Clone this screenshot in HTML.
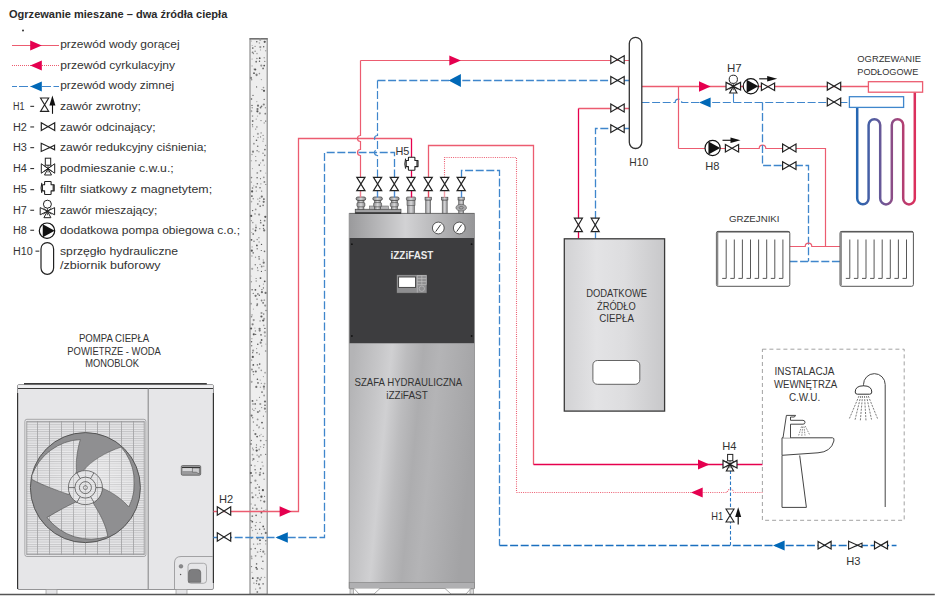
<!DOCTYPE html>
<html><head><meta charset="utf-8"><style>
html,body{margin:0;padding:0;background:#fff;width:946px;height:605px;overflow:hidden}
svg{display:block}
text{font-family:"Liberation Sans", sans-serif}
</style></head><body>
<svg width="946" height="605" viewBox="0 0 946 605">
<text x="9.0" y="17.8" font-size="10.8" text-anchor="start" font-weight="bold" fill="#2b2b2b" textLength="218.3" lengthAdjust="spacingAndGlyphs" >Ogrzewanie mieszane – dwa źródła ciepła</text>
<circle cx="23" cy="30.5" r="1.0" fill="#333"/>
<line x1="12" y1="45.5" x2="59" y2="45.5" stroke="#ec5c70" stroke-width="1.2"/>
<polygon points="30.2,40.4 41.8,45.5 30.2,50.6" fill="#e5004f"/>
<text x="60.2" y="48.1" font-size="11.7" text-anchor="start" font-weight="normal" fill="#333333" textLength="119.5" lengthAdjust="spacingAndGlyphs" >przewód wody gorącej</text>
<line x1="12" y1="65.5" x2="59" y2="65.5" stroke="#ec5c70" stroke-width="1.2" stroke-dasharray="1,1"/>
<polygon points="41.8,60.4 30.2,65.5 41.8,70.6" fill="#e5004f"/>
<text x="60.2" y="68.7" font-size="11.7" text-anchor="start" font-weight="normal" fill="#333333" textLength="114.9" lengthAdjust="spacingAndGlyphs" >przewód cyrkulacyjny</text>
<line x1="12" y1="86.5" x2="59" y2="86.5" stroke="#3f86cc" stroke-width="1.2" stroke-dasharray="5,2,9,2.5,9,2.5,9,2.5,9,2.5"/>
<polygon points="41.8,81.4 30.2,86.5 41.8,91.6" fill="#0068b7"/>
<text x="60.2" y="88.6" font-size="11.7" text-anchor="start" font-weight="normal" fill="#333333" textLength="114.0" lengthAdjust="spacingAndGlyphs" >przewód wody zimnej</text>
<text x="13.0" y="110.1" font-size="11.7" text-anchor="start" font-weight="normal" fill="#333333" textLength="11.5" lengthAdjust="spacingAndGlyphs" >H1</text>
<rect x="30.3" y="105.8" width="3.8" height="1.1" fill="#333333"/>
<text x="60.0" y="110.1" font-size="11.7" text-anchor="start" font-weight="normal" fill="#333333" textLength="80.9" lengthAdjust="spacingAndGlyphs" >zawór zwrotny;</text>
<text x="13.0" y="130.7" font-size="11.7" text-anchor="start" font-weight="normal" fill="#333333" textLength="13.9" lengthAdjust="spacingAndGlyphs" >H2</text>
<rect x="30.3" y="126.4" width="3.8" height="1.1" fill="#333333"/>
<text x="60.0" y="130.7" font-size="11.7" text-anchor="start" font-weight="normal" fill="#333333" textLength="95.7" lengthAdjust="spacingAndGlyphs" >zawór odcinający;</text>
<text x="13.0" y="151.4" font-size="11.7" text-anchor="start" font-weight="normal" fill="#333333" textLength="13.9" lengthAdjust="spacingAndGlyphs" >H3</text>
<rect x="30.3" y="147.1" width="3.8" height="1.1" fill="#333333"/>
<text x="60.0" y="151.4" font-size="11.7" text-anchor="start" font-weight="normal" fill="#333333" textLength="146.7" lengthAdjust="spacingAndGlyphs" >zawór redukcyjny ciśnienia;</text>
<text x="13.0" y="172.3" font-size="11.7" text-anchor="start" font-weight="normal" fill="#333333" textLength="13.9" lengthAdjust="spacingAndGlyphs" >H4</text>
<rect x="30.3" y="168.0" width="3.8" height="1.1" fill="#333333"/>
<text x="60.0" y="172.3" font-size="11.7" text-anchor="start" font-weight="normal" fill="#333333" textLength="113.7" lengthAdjust="spacingAndGlyphs" >podmieszanie c.w.u.;</text>
<text x="13.0" y="193.4" font-size="11.7" text-anchor="start" font-weight="normal" fill="#333333" textLength="13.9" lengthAdjust="spacingAndGlyphs" >H5</text>
<rect x="30.3" y="189.1" width="3.8" height="1.1" fill="#333333"/>
<text x="60.0" y="193.4" font-size="11.7" text-anchor="start" font-weight="normal" fill="#333333" textLength="152.1" lengthAdjust="spacingAndGlyphs" >filtr siatkowy z magnetytem;</text>
<text x="13.0" y="214" font-size="11.7" text-anchor="start" font-weight="normal" fill="#333333" textLength="13.9" lengthAdjust="spacingAndGlyphs" >H7</text>
<rect x="30.3" y="209.7" width="3.8" height="1.1" fill="#333333"/>
<text x="60.0" y="214" font-size="11.7" text-anchor="start" font-weight="normal" fill="#333333" textLength="97.4" lengthAdjust="spacingAndGlyphs" >zawór mieszający;</text>
<text x="13.0" y="234" font-size="11.7" text-anchor="start" font-weight="normal" fill="#333333" textLength="13.9" lengthAdjust="spacingAndGlyphs" >H8</text>
<rect x="30.3" y="229.7" width="3.8" height="1.1" fill="#333333"/>
<text x="60.0" y="234" font-size="11.7" text-anchor="start" font-weight="normal" fill="#333333" textLength="180.1" lengthAdjust="spacingAndGlyphs" >dodatkowa pompa obiegowa c.o.;</text>
<text x="13.0" y="254.9" font-size="11.7" text-anchor="start" font-weight="normal" fill="#333333" textLength="19.7" lengthAdjust="spacingAndGlyphs" >H10</text>
<rect x="35.5" y="250.6" width="3.8" height="1.1" fill="#333333"/>
<text x="60.0" y="254.9" font-size="11.7" text-anchor="start" font-weight="normal" fill="#333333" textLength="118.1" lengthAdjust="spacingAndGlyphs" >sprzęgło hydrauliczne</text>
<text x="60.0" y="268.7" font-size="11.7" text-anchor="start" font-weight="normal" fill="#333333" textLength="100.6" lengthAdjust="spacingAndGlyphs" >/zbiornik buforowy</text>
<path d="M40.5,98 L48.7,98 L40.5,111.4 L48.7,111.4 Z" fill="none" stroke="#222" stroke-width="1.1"/>
<line x1="52.5" y1="100" x2="52.5" y2="113.8" stroke="#111" stroke-width="1.1"/>
<path d="M49.4,105.5 L52.4,95.5 L55.4,105.5 Z" fill="#111"/>
<path d="M41.3,122.85000000000001 L54.7,130.55 L54.7,122.85000000000001 L41.3,130.55 Z" fill="#fff" stroke="#222" stroke-width="1.2" stroke-linejoin="miter"/>
<path d="M41.2,143.3 L50,147.4 L54.6,145.2 L54.6,149.8 L50,147.4 L41.2,151.5 Z" fill="none" stroke="#222" stroke-width="1.1"/>
<path d="M41.3,163.75 L48,168.5 L41.3,173.25 Z M54.7,163.75 L48,168.5 L54.7,173.25 Z M48,168.5 L44.5,175.0 L51.5,175.0 Z" fill="#fff" stroke="#222" stroke-width="1.0" stroke-linejoin="miter"/>
<path d="M44,165.5 L52,171.5 M52,165.5 L44,171.5 M48,164.5 L48,172.5" stroke="#222" stroke-width="0.8"/>
<rect x="45.3" y="158.2" width="5.4" height="7" fill="#fff" stroke="#222" stroke-width="1.0"/>
<path d="M45.2,181.45 h5.3 q0.6,0 0.6,0.6 v2.7 h3.1 v6.1 h-3.1 v3.1 q0,0.6 -0.6,0.6 h-5.3 q-0.6,0 -0.6,-0.6 v-3.1 h-2.2 v-6.1 h2.2 v-2.7 q0,-0.6 0.6,-0.6 z" fill="#fff" stroke="#222" stroke-width="1.1" stroke-linejoin="round"/>
<path d="M53.2,184.55 v6.3 M41.8,182.85 q-1.4,5 0,10" fill="none" stroke="#222" stroke-width="1.1"/>
<path d="M40.199999999999996,207.6 L47.4,211.2 L40.199999999999996,214.79999999999998 Z M54.6,207.6 L47.4,211.2 L54.6,214.79999999999998 Z M47.4,211.2 L43.9,217.7 L50.9,217.7 Z" fill="#fff" stroke="#222" stroke-width="1.0" stroke-linejoin="miter"/>
<path d="M43.4,208.2 L51.4,214.2 M51.4,208.2 L43.4,214.2 M47.4,207.2 L47.4,215.2" stroke="#222" stroke-width="0.8"/>
<circle cx="47.4" cy="204.2" r="4" fill="#fff" stroke="#222" stroke-width="1.0"/>
<circle cx="47" cy="230.7" r="7.7" fill="#fff" stroke="#111" stroke-width="1.2"/>
<path d="M42.765,224.155 L54.7,230.7 L42.765,237.24499999999998 Z" fill="#111"/>
<rect x="41" y="242.6" width="12.6" height="31.7" rx="6.3" fill="#fff" stroke="#222" stroke-width="1.2"/>
<rect x="250" y="38.8" width="17.2" height="555.5" fill="#eeeeee" stroke="#858585" stroke-width="1.1"/>
<line x1="249.5" y1="38.8" x2="267.7" y2="38.8" stroke="#666" stroke-width="1.2"/>
<circle cx="251.4" cy="41.0" r="0.6" fill="#a5a5a5"/>
<circle cx="256.8" cy="41.7" r="0.7" fill="#555"/>
<circle cx="260.2" cy="39.7" r="1.1" fill="#959595"/>
<circle cx="264.7" cy="41.8" r="1.1" fill="#555"/>
<circle cx="252.2" cy="45.5" r="0.6" fill="#a5a5a5"/>
<circle cx="259.4" cy="43.0" r="0.8" fill="#a5a5a5"/>
<circle cx="252.8" cy="48.1" r="0.8" fill="#555"/>
<circle cx="255.1" cy="46.4" r="0.7" fill="#959595"/>
<circle cx="260.3" cy="47.1" r="1.1" fill="#959595"/>
<circle cx="263.7" cy="46.7" r="0.7" fill="#555"/>
<circle cx="252.6" cy="52.4" r="0.9" fill="#808080"/>
<circle cx="255.1" cy="51.3" r="0.7" fill="#808080"/>
<circle cx="260.5" cy="49.9" r="0.6" fill="#a5a5a5"/>
<circle cx="265.7" cy="50.7" r="0.8" fill="#a5a5a5"/>
<circle cx="253.5" cy="53.6" r="0.6" fill="#808080"/>
<circle cx="257.0" cy="53.6" r="0.8" fill="#a5a5a5"/>
<circle cx="252.1" cy="59.0" r="0.6" fill="#959595"/>
<circle cx="256.9" cy="58.5" r="0.7" fill="#808080"/>
<circle cx="259.7" cy="58.2" r="0.9" fill="#555"/>
<circle cx="264.2" cy="57.8" r="0.7" fill="#959595"/>
<circle cx="256.2" cy="61.7" r="0.9" fill="#707070"/>
<circle cx="259.5" cy="61.3" r="0.7" fill="#555"/>
<circle cx="264.8" cy="61.4" r="0.6" fill="#707070"/>
<circle cx="252.1" cy="65.9" r="0.7" fill="#a5a5a5"/>
<circle cx="261.3" cy="65.6" r="1.1" fill="#959595"/>
<circle cx="264.2" cy="65.6" r="0.9" fill="#555"/>
<circle cx="254.1" cy="69.1" r="0.6" fill="#808080"/>
<circle cx="255.2" cy="69.5" r="1.1" fill="#555"/>
<circle cx="263.1" cy="68.4" r="0.9" fill="#707070"/>
<circle cx="254.0" cy="73.2" r="0.9" fill="#555"/>
<circle cx="256.5" cy="74.3" r="0.9" fill="#959595"/>
<circle cx="259.4" cy="73.6" r="0.8" fill="#959595"/>
<circle cx="251.0" cy="77.9" r="1.1" fill="#808080"/>
<circle cx="256.6" cy="75.1" r="1.1" fill="#808080"/>
<circle cx="251.7" cy="79.7" r="0.7" fill="#808080"/>
<circle cx="261.4" cy="79.6" r="0.7" fill="#a5a5a5"/>
<circle cx="256.6" cy="86.9" r="0.6" fill="#555"/>
<circle cx="263.5" cy="87.6" r="0.8" fill="#959595"/>
<circle cx="262.0" cy="89.6" r="0.6" fill="#707070"/>
<circle cx="264.0" cy="90.8" r="1.1" fill="#555"/>
<circle cx="253.0" cy="95.4" r="0.6" fill="#555"/>
<circle cx="251.5" cy="99.0" r="0.8" fill="#555"/>
<circle cx="264.2" cy="99.4" r="0.7" fill="#707070"/>
<circle cx="256.8" cy="101.6" r="0.7" fill="#a5a5a5"/>
<circle cx="252.0" cy="105.4" r="0.7" fill="#555"/>
<circle cx="258.0" cy="105.7" r="1.1" fill="#707070"/>
<circle cx="261.7" cy="106.3" r="0.7" fill="#555"/>
<circle cx="263.8" cy="104.5" r="1.1" fill="#808080"/>
<circle cx="252.2" cy="107.8" r="0.8" fill="#959595"/>
<circle cx="257.5" cy="109.0" r="1.1" fill="#707070"/>
<circle cx="260.6" cy="107.5" r="0.9" fill="#707070"/>
<circle cx="265.4" cy="107.8" r="0.7" fill="#959595"/>
<circle cx="251.3" cy="111.2" r="1.1" fill="#a5a5a5"/>
<circle cx="257.4" cy="111.3" r="1.1" fill="#555"/>
<circle cx="259.8" cy="113.3" r="1.1" fill="#959595"/>
<circle cx="265.3" cy="113.7" r="0.9" fill="#808080"/>
<circle cx="252.5" cy="116.1" r="0.8" fill="#959595"/>
<circle cx="257.5" cy="116.1" r="0.7" fill="#a5a5a5"/>
<circle cx="252.7" cy="121.0" r="0.9" fill="#707070"/>
<circle cx="256.2" cy="119.1" r="0.7" fill="#959595"/>
<circle cx="261.0" cy="120.6" r="0.7" fill="#808080"/>
<circle cx="265.7" cy="121.1" r="0.7" fill="#555"/>
<circle cx="252.5" cy="124.8" r="0.7" fill="#707070"/>
<circle cx="264.2" cy="122.9" r="0.6" fill="#808080"/>
<circle cx="252.7" cy="126.7" r="0.6" fill="#959595"/>
<circle cx="256.9" cy="126.9" r="0.6" fill="#555"/>
<circle cx="255.7" cy="129.1" r="0.7" fill="#808080"/>
<circle cx="257.9" cy="133.8" r="1.1" fill="#a5a5a5"/>
<circle cx="261.1" cy="132.9" r="0.6" fill="#707070"/>
<circle cx="263.1" cy="135.4" r="0.6" fill="#808080"/>
<circle cx="253.6" cy="136.4" r="0.6" fill="#959595"/>
<circle cx="258.1" cy="137.5" r="0.8" fill="#a5a5a5"/>
<circle cx="260.6" cy="136.9" r="0.6" fill="#707070"/>
<circle cx="263.5" cy="139.0" r="0.8" fill="#a5a5a5"/>
<circle cx="256.5" cy="140.3" r="0.8" fill="#555"/>
<circle cx="263.0" cy="141.3" r="0.7" fill="#a5a5a5"/>
<circle cx="253.9" cy="143.7" r="0.9" fill="#959595"/>
<circle cx="257.7" cy="146.3" r="0.8" fill="#707070"/>
<circle cx="265.6" cy="145.5" r="0.7" fill="#959595"/>
<circle cx="264.9" cy="149.6" r="0.9" fill="#707070"/>
<circle cx="253.0" cy="151.7" r="1.1" fill="#808080"/>
<circle cx="257.1" cy="150.7" r="0.7" fill="#707070"/>
<circle cx="258.9" cy="151.7" r="0.8" fill="#a5a5a5"/>
<circle cx="263.0" cy="153.2" r="0.7" fill="#808080"/>
<circle cx="252.0" cy="154.5" r="0.8" fill="#a5a5a5"/>
<circle cx="255.7" cy="156.5" r="0.6" fill="#808080"/>
<circle cx="264.8" cy="155.4" r="0.8" fill="#808080"/>
<circle cx="251.2" cy="160.7" r="0.7" fill="#a5a5a5"/>
<circle cx="255.9" cy="160.8" r="0.7" fill="#808080"/>
<circle cx="263.0" cy="160.3" r="1.1" fill="#959595"/>
<circle cx="260.6" cy="162.9" r="0.6" fill="#a5a5a5"/>
<circle cx="259.2" cy="165.1" r="0.8" fill="#555"/>
<circle cx="264.3" cy="165.2" r="0.6" fill="#a5a5a5"/>
<circle cx="252.5" cy="168.6" r="0.6" fill="#a5a5a5"/>
<circle cx="260.6" cy="170.8" r="0.9" fill="#808080"/>
<circle cx="257.3" cy="172.9" r="0.9" fill="#959595"/>
<circle cx="265.8" cy="173.1" r="0.6" fill="#a5a5a5"/>
<circle cx="251.5" cy="177.6" r="0.8" fill="#808080"/>
<circle cx="257.1" cy="177.7" r="0.7" fill="#555"/>
<circle cx="260.5" cy="178.7" r="0.6" fill="#707070"/>
<circle cx="263.8" cy="177.3" r="0.9" fill="#959595"/>
<circle cx="251.3" cy="182.1" r="0.7" fill="#808080"/>
<circle cx="264.4" cy="181.9" r="0.9" fill="#808080"/>
<circle cx="253.8" cy="185.8" r="0.6" fill="#a5a5a5"/>
<circle cx="257.3" cy="183.8" r="0.8" fill="#707070"/>
<circle cx="260.9" cy="183.8" r="0.6" fill="#808080"/>
<circle cx="265.8" cy="184.5" r="0.6" fill="#707070"/>
<circle cx="252.5" cy="188.0" r="0.8" fill="#707070"/>
<circle cx="256.1" cy="187.0" r="0.8" fill="#555"/>
<circle cx="260.0" cy="187.8" r="0.7" fill="#555"/>
<circle cx="252.1" cy="191.4" r="1.1" fill="#555"/>
<circle cx="256.3" cy="191.0" r="0.6" fill="#808080"/>
<circle cx="261.6" cy="191.1" r="0.7" fill="#707070"/>
<circle cx="251.9" cy="196.1" r="0.9" fill="#555"/>
<circle cx="261.8" cy="196.6" r="1.1" fill="#707070"/>
<circle cx="253.2" cy="198.8" r="0.7" fill="#808080"/>
<circle cx="257.8" cy="199.1" r="0.7" fill="#959595"/>
<circle cx="259.8" cy="198.2" r="0.8" fill="#959595"/>
<circle cx="263.9" cy="199.1" r="0.9" fill="#555"/>
<circle cx="251.4" cy="201.6" r="0.9" fill="#a5a5a5"/>
<circle cx="257.8" cy="204.0" r="0.9" fill="#959595"/>
<circle cx="259.5" cy="201.3" r="0.8" fill="#a5a5a5"/>
<circle cx="263.7" cy="201.8" r="1.1" fill="#707070"/>
<circle cx="260.2" cy="206.2" r="0.9" fill="#808080"/>
<circle cx="263.1" cy="205.4" r="0.8" fill="#707070"/>
<circle cx="252.6" cy="210.6" r="0.7" fill="#555"/>
<circle cx="255.7" cy="209.4" r="0.9" fill="#959595"/>
<circle cx="255.0" cy="213.9" r="0.9" fill="#a5a5a5"/>
<circle cx="259.1" cy="214.6" r="1.1" fill="#959595"/>
<circle cx="251.2" cy="215.9" r="1.1" fill="#555"/>
<circle cx="265.3" cy="216.8" r="1.1" fill="#555"/>
<circle cx="251.3" cy="220.7" r="0.6" fill="#808080"/>
<circle cx="260.6" cy="220.3" r="0.6" fill="#555"/>
<circle cx="264.6" cy="220.7" r="0.9" fill="#808080"/>
<circle cx="252.8" cy="222.6" r="0.8" fill="#959595"/>
<circle cx="255.9" cy="225.1" r="0.7" fill="#959595"/>
<circle cx="260.7" cy="222.7" r="0.9" fill="#808080"/>
<circle cx="263.5" cy="225.3" r="0.9" fill="#555"/>
<circle cx="253.0" cy="229.0" r="0.7" fill="#959595"/>
<circle cx="256.0" cy="227.5" r="0.9" fill="#707070"/>
<circle cx="259.8" cy="228.7" r="0.6" fill="#707070"/>
<circle cx="263.5" cy="228.5" r="0.7" fill="#707070"/>
<circle cx="251.7" cy="232.5" r="0.6" fill="#a5a5a5"/>
<circle cx="255.5" cy="230.5" r="0.9" fill="#555"/>
<circle cx="264.2" cy="230.4" r="1.1" fill="#707070"/>
<circle cx="253.2" cy="234.0" r="0.9" fill="#808080"/>
<circle cx="251.5" cy="239.8" r="0.9" fill="#555"/>
<circle cx="257.2" cy="239.5" r="0.8" fill="#959595"/>
<circle cx="258.9" cy="237.8" r="0.8" fill="#959595"/>
<circle cx="254.0" cy="241.2" r="0.8" fill="#808080"/>
<circle cx="259.1" cy="242.0" r="0.8" fill="#a5a5a5"/>
<circle cx="252.1" cy="246.9" r="0.6" fill="#959595"/>
<circle cx="256.9" cy="245.4" r="0.9" fill="#555"/>
<circle cx="261.5" cy="244.4" r="0.7" fill="#555"/>
<circle cx="251.8" cy="250.7" r="1.1" fill="#555"/>
<circle cx="257.2" cy="248.7" r="0.8" fill="#808080"/>
<circle cx="261.3" cy="250.5" r="0.6" fill="#555"/>
<circle cx="253.2" cy="252.8" r="0.9" fill="#808080"/>
<circle cx="264.5" cy="251.4" r="0.8" fill="#707070"/>
<circle cx="251.9" cy="256.0" r="0.8" fill="#a5a5a5"/>
<circle cx="255.5" cy="257.3" r="0.7" fill="#959595"/>
<circle cx="259.0" cy="256.7" r="0.8" fill="#707070"/>
<circle cx="259.2" cy="258.9" r="0.9" fill="#959595"/>
<circle cx="263.3" cy="260.0" r="0.7" fill="#a5a5a5"/>
<circle cx="255.3" cy="264.7" r="0.8" fill="#808080"/>
<circle cx="260.1" cy="264.4" r="0.7" fill="#959595"/>
<circle cx="263.7" cy="262.7" r="1.1" fill="#707070"/>
<circle cx="252.2" cy="268.8" r="1.1" fill="#a5a5a5"/>
<circle cx="257.5" cy="267.8" r="0.6" fill="#555"/>
<circle cx="261.7" cy="266.5" r="0.9" fill="#808080"/>
<circle cx="263.8" cy="266.2" r="0.7" fill="#a5a5a5"/>
<circle cx="257.9" cy="270.5" r="0.7" fill="#959595"/>
<circle cx="261.4" cy="271.4" r="0.6" fill="#555"/>
<circle cx="265.2" cy="270.4" r="0.6" fill="#808080"/>
<circle cx="251.0" cy="276.0" r="0.6" fill="#a5a5a5"/>
<circle cx="256.1" cy="278.5" r="0.6" fill="#707070"/>
<circle cx="260.5" cy="278.1" r="0.9" fill="#555"/>
<circle cx="251.4" cy="281.8" r="0.7" fill="#959595"/>
<circle cx="256.2" cy="281.0" r="0.8" fill="#959595"/>
<circle cx="264.7" cy="281.3" r="0.9" fill="#555"/>
<circle cx="259.5" cy="286.0" r="0.7" fill="#555"/>
<circle cx="263.4" cy="284.1" r="0.6" fill="#959595"/>
<circle cx="252.1" cy="289.7" r="0.7" fill="#555"/>
<circle cx="255.4" cy="289.8" r="0.9" fill="#555"/>
<circle cx="261.9" cy="289.6" r="0.7" fill="#707070"/>
<circle cx="263.4" cy="287.9" r="0.6" fill="#555"/>
<circle cx="253.3" cy="293.4" r="0.7" fill="#808080"/>
<circle cx="257.9" cy="293.9" r="0.9" fill="#808080"/>
<circle cx="261.9" cy="292.2" r="1.1" fill="#707070"/>
<circle cx="265.6" cy="292.9" r="1.1" fill="#707070"/>
<circle cx="255.6" cy="295.8" r="1.1" fill="#707070"/>
<circle cx="259.3" cy="295.3" r="0.7" fill="#555"/>
<circle cx="257.0" cy="299.2" r="0.9" fill="#a5a5a5"/>
<circle cx="261.6" cy="300.5" r="0.9" fill="#808080"/>
<circle cx="264.3" cy="300.2" r="0.9" fill="#a5a5a5"/>
<circle cx="251.0" cy="303.7" r="0.9" fill="#959595"/>
<circle cx="257.3" cy="304.1" r="0.9" fill="#707070"/>
<circle cx="263.1" cy="302.9" r="0.8" fill="#555"/>
<circle cx="257.0" cy="305.5" r="0.7" fill="#555"/>
<circle cx="265.2" cy="305.6" r="1.1" fill="#959595"/>
<circle cx="253.4" cy="309.1" r="0.6" fill="#a5a5a5"/>
<circle cx="266.0" cy="310.5" r="0.7" fill="#707070"/>
<circle cx="252.0" cy="314.9" r="0.7" fill="#808080"/>
<circle cx="261.5" cy="313.0" r="1.1" fill="#959595"/>
<circle cx="263.7" cy="314.1" r="0.8" fill="#808080"/>
<circle cx="251.5" cy="316.7" r="0.8" fill="#808080"/>
<circle cx="261.4" cy="316.5" r="1.1" fill="#555"/>
<circle cx="264.1" cy="318.8" r="1.1" fill="#a5a5a5"/>
<circle cx="253.7" cy="320.1" r="1.1" fill="#959595"/>
<circle cx="260.1" cy="320.9" r="0.7" fill="#808080"/>
<circle cx="263.2" cy="320.5" r="1.1" fill="#555"/>
<circle cx="252.6" cy="324.3" r="1.1" fill="#808080"/>
<circle cx="263.8" cy="325.3" r="0.9" fill="#a5a5a5"/>
<circle cx="251.1" cy="328.5" r="1.1" fill="#555"/>
<circle cx="254.9" cy="328.1" r="0.6" fill="#a5a5a5"/>
<circle cx="259.6" cy="328.8" r="1.1" fill="#707070"/>
<circle cx="264.9" cy="328.4" r="0.7" fill="#555"/>
<circle cx="255.4" cy="330.9" r="0.7" fill="#808080"/>
<circle cx="259.7" cy="330.6" r="1.1" fill="#808080"/>
<circle cx="264.8" cy="332.4" r="1.1" fill="#959595"/>
<circle cx="253.8" cy="334.3" r="1.1" fill="#555"/>
<circle cx="255.7" cy="334.4" r="0.6" fill="#555"/>
<circle cx="261.0" cy="334.8" r="0.9" fill="#707070"/>
<circle cx="265.0" cy="336.1" r="0.9" fill="#a5a5a5"/>
<circle cx="251.9" cy="338.7" r="0.6" fill="#959595"/>
<circle cx="261.6" cy="340.0" r="0.9" fill="#555"/>
<circle cx="251.6" cy="341.7" r="0.7" fill="#555"/>
<circle cx="257.8" cy="344.2" r="0.8" fill="#555"/>
<circle cx="260.7" cy="342.7" r="1.1" fill="#808080"/>
<circle cx="265.9" cy="344.1" r="0.6" fill="#a5a5a5"/>
<circle cx="251.7" cy="345.7" r="0.7" fill="#707070"/>
<circle cx="261.7" cy="346.0" r="0.7" fill="#959595"/>
<circle cx="253.1" cy="350.6" r="1.1" fill="#959595"/>
<circle cx="256.6" cy="348.6" r="0.6" fill="#959595"/>
<circle cx="265.7" cy="351.0" r="0.9" fill="#a5a5a5"/>
<circle cx="252.7" cy="352.7" r="0.6" fill="#555"/>
<circle cx="256.9" cy="352.7" r="0.7" fill="#555"/>
<circle cx="259.3" cy="354.1" r="0.6" fill="#555"/>
<circle cx="252.8" cy="356.9" r="1.1" fill="#555"/>
<circle cx="251.7" cy="360.0" r="0.6" fill="#555"/>
<circle cx="253.3" cy="364.9" r="0.9" fill="#555"/>
<circle cx="257.4" cy="364.9" r="0.8" fill="#808080"/>
<circle cx="259.7" cy="364.1" r="0.8" fill="#555"/>
<circle cx="251.9" cy="369.5" r="1.1" fill="#959595"/>
<circle cx="259.0" cy="367.8" r="0.9" fill="#a5a5a5"/>
<circle cx="253.2" cy="371.8" r="0.7" fill="#555"/>
<circle cx="255.8" cy="371.5" r="1.1" fill="#707070"/>
<circle cx="261.3" cy="370.4" r="0.8" fill="#959595"/>
<circle cx="265.1" cy="372.7" r="0.9" fill="#a5a5a5"/>
<circle cx="253.6" cy="374.6" r="0.7" fill="#808080"/>
<circle cx="263.4" cy="376.6" r="0.6" fill="#959595"/>
<circle cx="257.4" cy="379.3" r="0.8" fill="#555"/>
<circle cx="260.2" cy="380.1" r="0.6" fill="#959595"/>
<circle cx="251.6" cy="381.8" r="1.1" fill="#a5a5a5"/>
<circle cx="258.0" cy="382.9" r="0.9" fill="#707070"/>
<circle cx="261.3" cy="383.3" r="0.6" fill="#808080"/>
<circle cx="264.6" cy="383.6" r="0.9" fill="#a5a5a5"/>
<circle cx="256.3" cy="386.9" r="1.1" fill="#707070"/>
<circle cx="260.4" cy="387.3" r="0.7" fill="#a5a5a5"/>
<circle cx="263.9" cy="386.7" r="1.1" fill="#707070"/>
<circle cx="264.0" cy="388.9" r="0.7" fill="#808080"/>
<circle cx="262.0" cy="392.1" r="0.9" fill="#707070"/>
<circle cx="259.5" cy="397.3" r="0.6" fill="#808080"/>
<circle cx="264.1" cy="395.5" r="0.9" fill="#959595"/>
<circle cx="252.5" cy="400.9" r="0.9" fill="#555"/>
<circle cx="256.8" cy="400.2" r="0.7" fill="#959595"/>
<circle cx="265.0" cy="401.5" r="1.1" fill="#707070"/>
<circle cx="253.0" cy="404.0" r="0.8" fill="#808080"/>
<circle cx="255.2" cy="403.9" r="0.9" fill="#707070"/>
<circle cx="260.3" cy="404.0" r="1.1" fill="#959595"/>
<circle cx="265.0" cy="405.2" r="0.8" fill="#555"/>
<circle cx="252.5" cy="409.1" r="0.6" fill="#808080"/>
<circle cx="255.4" cy="408.5" r="0.7" fill="#a5a5a5"/>
<circle cx="261.6" cy="407.6" r="0.7" fill="#959595"/>
<circle cx="264.9" cy="408.7" r="1.1" fill="#808080"/>
<circle cx="253.9" cy="410.4" r="0.7" fill="#959595"/>
<circle cx="257.9" cy="412.0" r="1.1" fill="#808080"/>
<circle cx="259.7" cy="410.9" r="0.6" fill="#555"/>
<circle cx="265.8" cy="411.7" r="0.8" fill="#a5a5a5"/>
<circle cx="251.6" cy="415.6" r="1.1" fill="#707070"/>
<circle cx="263.4" cy="416.2" r="0.6" fill="#707070"/>
<circle cx="252.7" cy="417.7" r="0.7" fill="#808080"/>
<circle cx="257.6" cy="419.4" r="0.9" fill="#959595"/>
<circle cx="253.4" cy="422.0" r="0.7" fill="#808080"/>
<circle cx="262.0" cy="422.6" r="0.9" fill="#555"/>
<circle cx="257.0" cy="425.2" r="0.9" fill="#959595"/>
<circle cx="259.2" cy="426.9" r="0.7" fill="#808080"/>
<circle cx="253.5" cy="430.5" r="0.7" fill="#a5a5a5"/>
<circle cx="258.9" cy="427.8" r="0.6" fill="#808080"/>
<circle cx="263.2" cy="428.2" r="0.7" fill="#707070"/>
<circle cx="255.4" cy="434.1" r="1.1" fill="#707070"/>
<circle cx="261.1" cy="434.3" r="0.6" fill="#a5a5a5"/>
<circle cx="257.1" cy="436.6" r="0.9" fill="#555"/>
<circle cx="259.7" cy="435.7" r="0.7" fill="#959595"/>
<circle cx="263.1" cy="436.4" r="0.7" fill="#959595"/>
<circle cx="251.4" cy="440.4" r="0.6" fill="#707070"/>
<circle cx="260.7" cy="440.6" r="0.9" fill="#808080"/>
<circle cx="266.1" cy="440.6" r="0.7" fill="#808080"/>
<circle cx="251.0" cy="444.0" r="0.8" fill="#555"/>
<circle cx="256.5" cy="444.9" r="0.6" fill="#707070"/>
<circle cx="264.0" cy="444.8" r="0.8" fill="#808080"/>
<circle cx="252.6" cy="448.1" r="0.7" fill="#808080"/>
<circle cx="256.3" cy="447.5" r="0.8" fill="#808080"/>
<circle cx="260.5" cy="446.8" r="0.8" fill="#a5a5a5"/>
<circle cx="263.6" cy="447.3" r="0.6" fill="#808080"/>
<circle cx="253.2" cy="449.8" r="0.6" fill="#555"/>
<circle cx="256.7" cy="450.6" r="1.1" fill="#555"/>
<circle cx="259.2" cy="449.5" r="0.9" fill="#a5a5a5"/>
<circle cx="252.5" cy="454.6" r="0.9" fill="#a5a5a5"/>
<circle cx="257.1" cy="455.1" r="0.6" fill="#707070"/>
<circle cx="260.9" cy="454.9" r="0.7" fill="#555"/>
<circle cx="265.7" cy="454.3" r="0.6" fill="#555"/>
<circle cx="253.5" cy="459.0" r="1.1" fill="#808080"/>
<circle cx="259.0" cy="456.7" r="1.1" fill="#a5a5a5"/>
<circle cx="252.7" cy="460.3" r="0.6" fill="#959595"/>
<circle cx="257.8" cy="461.5" r="0.6" fill="#959595"/>
<circle cx="262.1" cy="462.2" r="0.7" fill="#959595"/>
<circle cx="251.2" cy="465.2" r="0.7" fill="#555"/>
<circle cx="254.9" cy="465.8" r="0.6" fill="#707070"/>
<circle cx="263.0" cy="466.0" r="0.7" fill="#959595"/>
<circle cx="255.1" cy="469.7" r="0.7" fill="#555"/>
<circle cx="260.7" cy="468.9" r="0.8" fill="#555"/>
<circle cx="250.9" cy="473.0" r="1.1" fill="#555"/>
<circle cx="255.9" cy="472.8" r="0.9" fill="#a5a5a5"/>
<circle cx="260.1" cy="472.7" r="0.9" fill="#959595"/>
<circle cx="263.4" cy="473.4" r="0.8" fill="#707070"/>
<circle cx="252.2" cy="475.8" r="0.9" fill="#808080"/>
<circle cx="259.8" cy="474.8" r="1.1" fill="#808080"/>
<circle cx="255.4" cy="480.7" r="1.1" fill="#959595"/>
<circle cx="264.1" cy="479.3" r="0.7" fill="#959595"/>
<circle cx="250.9" cy="482.6" r="0.9" fill="#707070"/>
<circle cx="257.5" cy="484.5" r="0.6" fill="#808080"/>
<circle cx="255.8" cy="488.0" r="1.1" fill="#959595"/>
<circle cx="259.2" cy="487.1" r="0.9" fill="#707070"/>
<circle cx="259.1" cy="490.2" r="0.7" fill="#808080"/>
<circle cx="262.9" cy="490.2" r="1.1" fill="#555"/>
<circle cx="252.0" cy="492.8" r="0.9" fill="#a5a5a5"/>
<circle cx="255.7" cy="495.1" r="0.8" fill="#959595"/>
<circle cx="259.5" cy="493.2" r="0.6" fill="#707070"/>
<circle cx="252.7" cy="497.3" r="1.1" fill="#707070"/>
<circle cx="257.9" cy="497.7" r="0.6" fill="#808080"/>
<circle cx="261.4" cy="496.7" r="1.1" fill="#555"/>
<circle cx="264.6" cy="496.3" r="0.6" fill="#707070"/>
<circle cx="260.7" cy="500.6" r="0.8" fill="#959595"/>
<circle cx="264.3" cy="501.6" r="1.1" fill="#707070"/>
<circle cx="251.0" cy="504.0" r="0.7" fill="#959595"/>
<circle cx="255.1" cy="505.1" r="0.9" fill="#959595"/>
<circle cx="252.8" cy="508.2" r="0.6" fill="#555"/>
<circle cx="256.7" cy="508.9" r="1.1" fill="#959595"/>
<circle cx="261.6" cy="508.1" r="0.7" fill="#707070"/>
<circle cx="265.9" cy="509.8" r="0.6" fill="#a5a5a5"/>
<circle cx="261.4" cy="512.7" r="0.9" fill="#555"/>
<circle cx="263.9" cy="510.6" r="0.7" fill="#808080"/>
<circle cx="252.3" cy="516.2" r="0.9" fill="#808080"/>
<circle cx="256.1" cy="515.3" r="0.9" fill="#707070"/>
<circle cx="261.5" cy="516.9" r="0.6" fill="#959595"/>
<circle cx="251.0" cy="520.6" r="0.7" fill="#555"/>
<circle cx="252.3" cy="521.7" r="0.9" fill="#555"/>
<circle cx="256.3" cy="522.4" r="0.7" fill="#959595"/>
<circle cx="260.1" cy="522.4" r="0.6" fill="#707070"/>
<circle cx="251.4" cy="527.6" r="0.8" fill="#959595"/>
<circle cx="255.4" cy="525.8" r="0.8" fill="#808080"/>
<circle cx="263.2" cy="526.4" r="0.9" fill="#555"/>
<circle cx="252.5" cy="530.5" r="0.7" fill="#a5a5a5"/>
<circle cx="255.8" cy="529.4" r="0.7" fill="#808080"/>
<circle cx="259.7" cy="529.3" r="0.7" fill="#555"/>
<circle cx="264.2" cy="529.1" r="0.8" fill="#707070"/>
<circle cx="257.5" cy="533.2" r="0.7" fill="#959595"/>
<circle cx="261.6" cy="533.8" r="0.7" fill="#808080"/>
<circle cx="265.8" cy="532.9" r="1.1" fill="#707070"/>
<circle cx="251.5" cy="538.1" r="0.7" fill="#707070"/>
<circle cx="257.6" cy="538.5" r="0.9" fill="#808080"/>
<circle cx="259.3" cy="537.8" r="0.7" fill="#a5a5a5"/>
<circle cx="262.9" cy="537.9" r="1.1" fill="#959595"/>
<circle cx="260.0" cy="540.2" r="0.9" fill="#555"/>
<circle cx="265.8" cy="540.8" r="0.8" fill="#707070"/>
<circle cx="253.6" cy="544.1" r="0.7" fill="#808080"/>
<circle cx="257.6" cy="544.1" r="0.9" fill="#a5a5a5"/>
<circle cx="260.0" cy="543.7" r="0.8" fill="#959595"/>
<circle cx="265.8" cy="543.9" r="0.6" fill="#959595"/>
<circle cx="251.0" cy="549.0" r="0.7" fill="#555"/>
<circle cx="255.2" cy="548.5" r="0.7" fill="#555"/>
<circle cx="260.7" cy="549.5" r="0.6" fill="#555"/>
<circle cx="257.6" cy="552.1" r="0.9" fill="#a5a5a5"/>
<circle cx="260.3" cy="551.3" r="0.6" fill="#707070"/>
<circle cx="263.3" cy="551.7" r="1.1" fill="#808080"/>
<circle cx="251.3" cy="556.5" r="1.1" fill="#a5a5a5"/>
<circle cx="255.6" cy="555.8" r="0.9" fill="#959595"/>
<circle cx="261.5" cy="556.6" r="0.9" fill="#959595"/>
<circle cx="264.8" cy="553.9" r="0.6" fill="#808080"/>
<circle cx="251.7" cy="558.4" r="0.9" fill="#a5a5a5"/>
<circle cx="256.6" cy="563.9" r="0.8" fill="#707070"/>
<circle cx="262.9" cy="561.3" r="0.7" fill="#555"/>
<circle cx="251.5" cy="566.6" r="0.7" fill="#707070"/>
<circle cx="256.2" cy="567.6" r="0.9" fill="#555"/>
<circle cx="257.0" cy="569.0" r="1.1" fill="#808080"/>
<circle cx="261.5" cy="568.3" r="0.6" fill="#808080"/>
<circle cx="262.9" cy="568.9" r="0.6" fill="#808080"/>
<circle cx="252.0" cy="572.3" r="0.6" fill="#a5a5a5"/>
<circle cx="252.8" cy="578.2" r="0.9" fill="#555"/>
<circle cx="257.7" cy="578.1" r="1.1" fill="#808080"/>
<circle cx="261.3" cy="577.6" r="0.8" fill="#959595"/>
<circle cx="264.7" cy="577.4" r="0.7" fill="#a5a5a5"/>
<circle cx="256.7" cy="580.8" r="0.9" fill="#808080"/>
<circle cx="260.0" cy="579.6" r="1.1" fill="#959595"/>
<circle cx="253.9" cy="583.1" r="0.7" fill="#808080"/>
<circle cx="256.5" cy="583.5" r="0.7" fill="#808080"/>
<circle cx="259.0" cy="584.3" r="1.1" fill="#808080"/>
<circle cx="263.1" cy="583.8" r="0.9" fill="#808080"/>
<circle cx="255.6" cy="589.1" r="0.7" fill="#959595"/>
<circle cx="260.0" cy="588.2" r="1.1" fill="#a5a5a5"/>
<circle cx="257.3" cy="592.0" r="0.9" fill="#808080"/>
<defs><linearGradient id="gapg" x1="0" y1="0" x2="1" y2="1"><stop offset="0" stop-color="#c9c9cb"/><stop offset="0.5" stop-color="#f2f2f2"/><stop offset="1" stop-color="#bdbdbf"/></linearGradient><pattern id="grill" width="12" height="2.3" patternUnits="userSpaceOnUse" x="37" y="422"><rect width="12" height="2.3" fill="#e6e6e8"/><rect y="0" width="12" height="0.9" fill="#c2c2c4"/><rect x="0" width="0.8" height="2.3" fill="#a0a0a2"/></pattern><radialGradient id="gapw" cx="0.62" cy="0.4" r="0.6"><stop offset="0" stop-color="#fff" stop-opacity="0.35"/><stop offset="1" stop-color="#fff" stop-opacity="0"/></radialGradient><clipPath id="fanclip"><circle cx="85.4" cy="487.6" r="55"/></clipPath></defs>
<rect x="17.5" y="384.6" width="196" height="204.9" rx="1.5" fill="#e6e6e8" stroke="#8a8a8c" stroke-width="0.9"/>
<rect x="18" y="385.2" width="195" height="3" fill="#efeff1"/>
<path d="M17.6,589 V393 M213.4,393 V583" stroke="#333" stroke-width="1.2" fill="none"/>
<line x1="24" y1="383.8" x2="206.8" y2="383.8" stroke="#3a3a3a" stroke-width="1.4"/>
<line x1="18" y1="388.5" x2="213" y2="388.5" stroke="#3a3a3a" stroke-width="1"/>
<line x1="148.2" y1="388.6" x2="148.2" y2="589" stroke="#8a8a8c" stroke-width="1.1"/>
<rect x="24.9" y="419.3" width="121" height="137.2" rx="2" fill="#ededef" stroke="#a5a5a7" stroke-width="1"/>
<rect x="26.8" y="421.3" width="117.4" height="133.4" fill="url(#grill)" stroke="#8f8f91" stroke-width="0.8"/>
<circle cx="85.4" cy="487.6" r="55" fill="#8f8f91" stroke="#555" stroke-width="1"/>
<path d="M31.8,475.6 A55,55 0 0 1 80.3,439.5 C77.5,449 75.5,461 76.5,470.9 L68.9,494.6 C56,490 42,485 31.8,479.4 Z M121.2,447.1 C106,452 91,461 83.1,470.9 L102.1,488 C112,492 122,499 128.8,507 A55,55 0 0 0 121.2,447.1 Z M92.6,502.2 C100,514 106,525 107.8,536.5 A55,55 0 0 1 47,517.5 C58,511 67,506 75.5,502.2 Z" fill="url(#grill)" stroke="#555" stroke-width="0.7"/>
<path d="M31.8,475.6 A55,55 0 0 1 80.3,439.5 C77.5,449 75.5,461 76.5,470.9 L68.9,494.6 C56,490 42,485 31.8,479.4 Z M121.2,447.1 C106,452 91,461 83.1,470.9 L102.1,488 C112,492 122,499 128.8,507 A55,55 0 0 0 121.2,447.1 Z M92.6,502.2 C100,514 106,525 107.8,536.5 A55,55 0 0 1 47,517.5 C58,511 67,506 75.5,502.2 Z" fill="url(#gapw)"/>
<circle cx="85.4" cy="487.6" r="17" fill="url(#grill)" stroke="#444" stroke-width="0.8"/><circle cx="85.4" cy="487.6" r="17" fill="#fff" opacity="0.25"/>
<circle cx="85.4" cy="487.6" r="10.5" fill="none" stroke="#444" stroke-width="0.7"/>
<circle cx="85.4" cy="487.6" r="6" fill="none" stroke="#444" stroke-width="0.7"/>
<circle cx="85.4" cy="487.6" r="2" fill="none" stroke="#444" stroke-width="0.6"/>
<path d="M95.90,487.60 L102.40,487.60 M90.65,496.69 L93.90,502.32 M80.15,496.69 L76.90,502.32 M74.90,487.60 L68.40,487.60 M80.15,478.51 L76.90,472.88 M90.65,478.51 L93.90,472.88 " stroke="#444" stroke-width="0.7"/>
<rect x="181.3" y="465.6" width="19.4" height="9.6" rx="1.2" fill="#9a9a9c" stroke="#666" stroke-width="0.9"/>
<line x1="182" y1="467.5" x2="200" y2="467.5" stroke="#333" stroke-width="1"/>
<rect x="182.6" y="468.1" width="9.8" height="2.9" fill="#d6d6d8"/>
<path d="M192.4,468 H199.4 V474 L196.2,472.2 H192.4 Z" fill="#cdcdcf" stroke="#444" stroke-width="0.5"/>
<path d="M174.5,589.5 V563 Q174.5,556.5 181,556.5 H213" fill="none" stroke="#9a9a9c" stroke-width="0.9"/>
<rect x="188" y="563.3" width="18.5" height="20" rx="3" fill="none" stroke="#9a9a9c" stroke-width="0.8"/>
<path d="M188.6,582.3 V572.5 Q188.6,569.4 191.8,569.4 H197.5 Q200.7,569.4 200.7,572.5 V582.3 Z" fill="#7d7d7f" stroke="#555" stroke-width="0.6"/>
<circle cx="181" cy="566.3" r="1.9" fill="#8a8a8c" stroke="#666" stroke-width="0.4"/>
<circle cx="180.6" cy="574.5" r="0.7" fill="#555"/>
<rect x="46" y="589.5" width="11" height="5" fill="#e6e6e8" stroke="#999" stroke-width="0.7"/>
<rect x="176" y="589.5" width="11" height="5" fill="#e6e6e8" stroke="#999" stroke-width="0.7"/>
<text x="78.9" y="341.9" font-size="10.2" text-anchor="start" font-weight="normal" fill="#333333" textLength="70.4" lengthAdjust="spacingAndGlyphs" >POMPA CIEPŁA</text>
<text x="67.3" y="354.7" font-size="10.2" text-anchor="start" font-weight="normal" fill="#333333" textLength="93.6" lengthAdjust="spacingAndGlyphs" >POWIETRZE - WODA</text>
<text x="85.2" y="366.6" font-size="10.2" text-anchor="start" font-weight="normal" fill="#333333" textLength="53.9" lengthAdjust="spacingAndGlyphs" >MONOBLOK</text>
<defs><linearGradient id="cabtop" x1="0" y1="0" x2="1" y2="0"><stop offset="0" stop-color="#9a9a9c"/><stop offset="0.45" stop-color="#d2d2d4"/><stop offset="1" stop-color="#969698"/></linearGradient><linearGradient id="cablow" gradientUnits="userSpaceOnUse" x1="349" y1="400" x2="474.5" y2="412"><stop offset="0" stop-color="#b4b4b6"/><stop offset="0.2" stop-color="#c6c6c8"/><stop offset="0.3" stop-color="#d0d0d2"/><stop offset="0.42" stop-color="#bcbcbe"/><stop offset="0.55" stop-color="#adadaf"/><stop offset="0.68" stop-color="#b4b4b6"/><stop offset="0.8" stop-color="#aeaeb0"/><stop offset="1" stop-color="#a3a3a5"/></linearGradient><linearGradient id="fit" x1="0" y1="0" x2="1" y2="0"><stop offset="0" stop-color="#8a8a8c"/><stop offset="0.5" stop-color="#d8d8da"/><stop offset="1" stop-color="#8a8a8c"/></linearGradient></defs>
<rect x="349.2" y="213.2" width="125.3" height="25" fill="url(#cabtop)"/>
<line x1="349.2" y1="213.4" x2="474.5" y2="213.4" stroke="#555" stroke-width="0.8"/>
<rect x="349.2" y="238" width="125.3" height="105.6" fill="#3d3d3f"/>
<rect x="349.2" y="343.6" width="125.3" height="239" fill="url(#cablow)"/>
<rect x="349.2" y="582.5" width="125.3" height="6" fill="#b0b0b2" stroke="#777" stroke-width="0.6"/>
<line x1="349.2" y1="213.2" x2="349.2" y2="588.5" stroke="#8a8a8c" stroke-width="0.8"/>
<line x1="474.5" y1="213.2" x2="474.5" y2="588.5" stroke="#8a8a8c" stroke-width="0.8"/>
<path d="M354,588.5 l5,5.5 h15 l6,-5.5" fill="#fff" stroke="#888" stroke-width="0.7"/>
<path d="M445,588.5 l6,5.5 h15 l5,-5.5" fill="#fff" stroke="#888" stroke-width="0.7"/>
<rect x="350" y="589" width="3.5" height="5.5" fill="#ddd" stroke="#888" stroke-width="0.6"/>
<rect x="470" y="589" width="3.5" height="5.5" fill="#ddd" stroke="#888" stroke-width="0.6"/>
<circle cx="351.9" cy="244.2" r="0.9" fill="#111"/>
<circle cx="471.6" cy="244.2" r="0.9" fill="#111"/>
<circle cx="351.9" cy="336" r="0.9" fill="#111"/>
<circle cx="471.6" cy="336" r="0.9" fill="#111"/>
<circle cx="438.3" cy="228" r="5.9" fill="#fff" stroke="#333" stroke-width="0.8"/>
<line x1="435.7" y1="231.6" x2="440.7" y2="224.6" stroke="#222" stroke-width="0.9"/>
<circle cx="459.3" cy="228" r="5.9" fill="#fff" stroke="#333" stroke-width="0.8"/>
<line x1="456.7" y1="231.6" x2="461.7" y2="224.6" stroke="#222" stroke-width="0.9"/>
<text x="390.6" y="258.6" font-size="10" font-weight="bold" fill="#ececec" textLength="42.8" lengthAdjust="spacingAndGlyphs">iZZiFAST</text>
<rect x="396.5" y="274.7" width="30.5" height="18.5" fill="#8e8e90" stroke="#3a3a3a" stroke-width="0.6"/>
<rect x="398.6" y="277" width="17" height="10.4" fill="#fff" stroke="#3a3a3a" stroke-width="0.9"/>
<path d="M417.3,275.3 V292.6 M421.8,275.3 V284.6 M426.3,275.3 V284.6 M417.3,275.6 H426.3 M417.3,278.6 H426.3 M417.3,281.6 H426.3 M417.3,284.6 H426.3" fill="none" stroke="#c4c4c6" stroke-width="0.6"/>
<circle cx="421.8" cy="288.7" r="2.7" fill="none" stroke="#c4c4c6" stroke-width="0.6"/>
<text x="354.5" y="385.9" font-size="10.5" text-anchor="start" font-weight="normal" fill="#333333" textLength="107.7" lengthAdjust="spacingAndGlyphs" >SZAFA HYDRAULICZNA</text>
<text x="386.2" y="398.9" font-size="10.5" text-anchor="start" font-weight="normal" fill="#333333" textLength="41.7" lengthAdjust="spacingAndGlyphs" >iZZiFAST</text>
<rect x="355.2" y="209.2" width="45.8" height="4.3" fill="#a0a0a2" stroke="#333" stroke-width="0.6"/>
<rect x="355.2" y="212.2" width="45.8" height="1.5" fill="#333"/>
<rect x="369.4" y="206" width="19" height="3.2" fill="#b5b5b7" stroke="#555" stroke-width="0.5"/>
<rect x="357.9" y="200" width="6" height="9.5" fill="url(#fit)" stroke="#444" stroke-width="0.6"/>
<rect x="356.9" y="202.6" width="8" height="4.2" rx="1.2" fill="url(#fit)" stroke="#444" stroke-width="0.6"/>
<rect x="356.09999999999997" y="197" width="9.6" height="3.4" rx="1.7" fill="url(#fit)" stroke="#333" stroke-width="0.7"/>
<rect x="374.6" y="200" width="6" height="9.5" fill="url(#fit)" stroke="#444" stroke-width="0.6"/>
<rect x="373.6" y="202.6" width="8" height="4.2" rx="1.2" fill="url(#fit)" stroke="#444" stroke-width="0.6"/>
<rect x="372.8" y="197" width="9.6" height="3.4" rx="1.7" fill="url(#fit)" stroke="#333" stroke-width="0.7"/>
<rect x="391.3" y="200" width="6" height="9.5" fill="url(#fit)" stroke="#444" stroke-width="0.6"/>
<rect x="390.3" y="202.6" width="8" height="4.2" rx="1.2" fill="url(#fit)" stroke="#444" stroke-width="0.6"/>
<rect x="389.5" y="197" width="9.6" height="3.4" rx="1.7" fill="url(#fit)" stroke="#333" stroke-width="0.7"/>
<rect x="407.5" y="200.4" width="7" height="12.8" fill="url(#fit)" stroke="#555" stroke-width="0.6"/>
<rect x="406.4" y="197" width="9.2" height="3.4" rx="1.2" fill="url(#fit)" stroke="#444" stroke-width="0.6"/>
<rect x="407" y="200.4" width="8" height="5" fill="url(#fit)" stroke="#555" stroke-width="0.6"/>
<rect x="425.7" y="200" width="5" height="13.2" fill="url(#fit)" stroke="#555" stroke-width="0.6"/>
<rect x="425.0" y="197.2" width="6.4" height="2.8" fill="url(#fit)" stroke="#444" stroke-width="0.6"/>
<rect x="442.2" y="200" width="5" height="13.2" fill="url(#fit)" stroke="#555" stroke-width="0.6"/>
<rect x="441.5" y="197.2" width="6.4" height="2.8" fill="url(#fit)" stroke="#444" stroke-width="0.6"/>
<rect x="458.7" y="200" width="5" height="13.2" fill="url(#fit)" stroke="#555" stroke-width="0.6"/>
<rect x="458.0" y="197.2" width="6.4" height="2.8" fill="url(#fit)" stroke="#444" stroke-width="0.6"/>
<ellipse cx="461.2" cy="207.7" rx="5.3" ry="3.4" fill="#a8a8aa" stroke="#555" stroke-width="0.6"/>
<ellipse cx="461.2" cy="207.7" rx="2" ry="1.3" fill="none" stroke="#444" stroke-width="0.5"/>
<polyline points="213.5,511.5 298.5,511.5 298.5,138.5 411.5,138.5" fill="none" stroke="#ec5c70" stroke-width="1.3" stroke-linejoin="miter"/>
<polyline points="411.5,138.5 411.5,177.5" fill="none" stroke="#e6004e" stroke-width="1.3" stroke-linejoin="miter"/>
<polygon points="279.6,506.25 291.6,511.5 279.6,516.75" fill="#e5004f"/>
<polyline points="213.5,537.5 324.5,537.5 324.5,152.5 394.5,152.5 394.5,177.5" fill="none" stroke="#3f86cc" stroke-width="1.3" stroke-dasharray="8,2.6" stroke-linejoin="miter"/>
<polygon points="287.8,532.25 275.5,537.5 287.8,542.75" fill="#0068b7"/>
<path d="M360.5,60.5 L360.5,135.5 A3.0,3.0 0 0 0 360.5,141.5 L360.5,149.5 A3.0,3.0 0 0 0 360.5,155.5 L360.5,177.5 M360.5,60.5 L629,60.5" fill="none" stroke="#ec5c70" stroke-width="1.2"/>
<polygon points="449.3,55.5 460.90000000000003,60.5 449.3,65.5" fill="#e5004f"/>
<path d="M377.5,80.5 L377.5,135.5 A3.0,3.0 0 0 0 377.5,141.5 L377.5,149.5 A3.0,3.0 0 0 0 377.5,155.5 L377.5,177.5" fill="none" stroke="#3f86cc" stroke-width="1.2" stroke-dasharray="8,2.6"/>
<polyline points="377.5,80.5 629.5,80.5" fill="none" stroke="#3f86cc" stroke-width="1.3" stroke-dasharray="8,2.6" stroke-linejoin="miter"/>
<polygon points="460.90000000000003,74.0 448.6,80.5 460.90000000000003,87.0" fill="#0068b7"/>
<polyline points="428.5,177.5 428.5,145.5 533.5,145.5 533.5,464.5" fill="none" stroke="#ec5c70" stroke-width="1.3" stroke-linejoin="miter"/>
<polyline points="533.5,464.5 762.5,464.5" fill="none" stroke="#e6004e" stroke-width="1.3" stroke-linejoin="miter"/>
<polygon points="698,459.5 709.5,464.5 698,469.5" fill="#e5004f"/>
<polyline points="444.5,177.5 444.5,157.5 516.5,157.5 516.5,492.5" fill="none" stroke="#ec5c70" stroke-width="1.1" stroke-dasharray="1,1.2" stroke-linejoin="miter"/>
<path d="M516.5,492.5 L727.2,492.5 A3.3,3.3 0 0 1 733.8,492.5 L762.5,492.5" fill="none" stroke="#ec5c70" stroke-width="1.1" stroke-dasharray="1,1.2"/>
<polygon points="702.7,487.5 691,492.5 702.7,497.5" fill="#e5004f"/>
<polyline points="461.5,177.5 461.5,170.5 499.5,170.5 499.5,545.5" fill="none" stroke="#3f86cc" stroke-width="1.3" stroke-dasharray="8,2.6" stroke-linejoin="miter"/>
<polyline points="499.5,545.5 896.5,545.5" fill="none" stroke="#1a6fbf" stroke-width="1.3" stroke-dasharray="8,2.6" stroke-linejoin="miter"/>
<polygon points="784.6,540.5 773,545.5 784.6,550.5" fill="#0068b7"/>
<polyline points="730.5,470.5 730.5,545.5" fill="none" stroke="#2a78c4" stroke-width="1.1" stroke-dasharray="3.5,2" stroke-linejoin="miter"/>
<polyline points="629.5,108.5 578.5,108.5" fill="none" stroke="#ec5c70" stroke-width="1.3" stroke-linejoin="miter"/>
<polyline points="578.5,108.5 578.5,238.5" fill="none" stroke="#e6004e" stroke-width="1.3" stroke-linejoin="miter"/>
<polyline points="629.5,128.5 595.5,128.5 595.5,238.5" fill="none" stroke="#3f86cc" stroke-width="1.3" stroke-dasharray="8,2.6" stroke-linejoin="miter"/>
<polyline points="641.5,86.5 868.5,86.5" fill="none" stroke="#ec5c70" stroke-width="1.3" stroke-linejoin="miter"/>
<polygon points="699,81.35 710.6,86.5 699,91.65" fill="#e5004f"/>
<path d="M641.5,102.5 L675.2,102.5 A3.3,3.3 0 0 1 681.8,102.5 L849.5,102.5" fill="none" stroke="#3f86cc" stroke-width="1.2" stroke-dasharray="8,2.6"/>
<polygon points="710.6,97.5 699,102.5 710.6,107.5" fill="#0068b7"/>
<polyline points="733.5,93.5 733.5,102.5" fill="none" stroke="#3f86cc" stroke-width="1.1" stroke-linejoin="miter"/>
<path d="M678.5,86.5 L678.5,148.5 M678.5,148.5 L759.2,148.5 A3.3,3.3 0 0 1 765.8,148.5 L825.5,148.5 L825.5,246.5" fill="none" stroke="#ec5c70" stroke-width="1.2"/>
<polyline points="762.5,102.5 762.5,165.5 808.5,165.5 808.5,261.5" fill="none" stroke="#3f86cc" stroke-width="1.3" stroke-dasharray="8,2.6" stroke-linejoin="miter"/>
<path d="M789.5,246.5 L805.2,246.5 A3.3,3.3 0 0 1 811.8,246.5 L840.5,246.5" fill="none" stroke="#ec5c70" stroke-width="1.2"/>
<polyline points="789.5,261.5 840.5,261.5" fill="none" stroke="#3f86cc" stroke-width="1.3" stroke-dasharray="8,2.6" stroke-linejoin="miter"/>
<line x1="360.5" y1="190" x2="360.5" y2="197.5" stroke="#f08090" stroke-width="1.4"/>
<path d="M356.79999999999995,177.3 L365.0,177.3 L356.79999999999995,190.7 L365.0,190.7 Z" fill="#fff" stroke="#222" stroke-width="1.2" stroke-linejoin="miter"/>
<line x1="377.5" y1="190" x2="377.5" y2="197.5" stroke="#4a8ad4" stroke-width="1.4"/>
<path d="M373.5,177.3 L381.70000000000005,177.3 L373.5,190.7 L381.70000000000005,190.7 Z" fill="#fff" stroke="#222" stroke-width="1.2" stroke-linejoin="miter"/>
<line x1="394.5" y1="190" x2="394.5" y2="197.5" stroke="#4a8ad4" stroke-width="1.4"/>
<path d="M390.2,177.3 L398.40000000000003,177.3 L390.2,190.7 L398.40000000000003,190.7 Z" fill="#fff" stroke="#222" stroke-width="1.2" stroke-linejoin="miter"/>
<line x1="411.5" y1="190" x2="411.5" y2="197.5" stroke="#e5004f" stroke-width="1.4"/>
<path d="M406.9,177.3 L415.1,177.3 L406.9,190.7 L415.1,190.7 Z" fill="#fff" stroke="#222" stroke-width="1.2" stroke-linejoin="miter"/>
<line x1="428.5" y1="190" x2="428.5" y2="197.5" stroke="#e8475f" stroke-width="1.4"/>
<path d="M424.09999999999997,177.3 L432.3,177.3 L424.09999999999997,190.7 L432.3,190.7 Z" fill="#fff" stroke="#222" stroke-width="1.2" stroke-linejoin="miter"/>
<line x1="444.5" y1="190" x2="444.5" y2="197.5" stroke="#f3a0aa" stroke-width="1.4"/>
<path d="M440.59999999999997,177.3 L448.8,177.3 L440.59999999999997,190.7 L448.8,190.7 Z" fill="#fff" stroke="#222" stroke-width="1.2" stroke-linejoin="miter"/>
<line x1="461.5" y1="190" x2="461.5" y2="197.5" stroke="#4a8ad4" stroke-width="1.4"/>
<path d="M457.09999999999997,177.3 L465.3,177.3 L457.09999999999997,190.7 L465.3,190.7 Z" fill="#fff" stroke="#222" stroke-width="1.2" stroke-linejoin="miter"/>
<path d="M574.4,218.20000000000002 L582.4,218.20000000000002 L574.4,231.6 L582.4,231.6 Z" fill="#fff" stroke="#222" stroke-width="1.2" stroke-linejoin="miter"/>
<path d="M591.2,218.20000000000002 L599.2,218.20000000000002 L591.2,231.6 L599.2,231.6 Z" fill="#fff" stroke="#222" stroke-width="1.2" stroke-linejoin="miter"/>
<path d="M217.3,506.85 L230.7,515.15 L230.7,506.85 L217.3,515.15 Z" fill="#fff" stroke="#222" stroke-width="1.2" stroke-linejoin="miter"/>
<path d="M217.3,532.85 L230.7,541.15 L230.7,532.85 L217.3,541.15 Z" fill="#fff" stroke="#222" stroke-width="1.2" stroke-linejoin="miter"/>
<text x="219.1" y="502.8" font-size="11.5" text-anchor="start" font-weight="normal" fill="#333333" textLength="14.2" lengthAdjust="spacingAndGlyphs" >H2</text>
<path d="M610.8,55.7 L624.2,63.5 L624.2,55.7 L610.8,63.5 Z" fill="#fff" stroke="#222" stroke-width="1.2" stroke-linejoin="miter"/>
<path d="M610.8,76.5 L624.2,84.30000000000001 L624.2,76.5 L610.8,84.30000000000001 Z" fill="#fff" stroke="#222" stroke-width="1.2" stroke-linejoin="miter"/>
<path d="M610.8,104.1 L624.2,111.9 L624.2,104.1 L610.8,111.9 Z" fill="#fff" stroke="#222" stroke-width="1.2" stroke-linejoin="miter"/>
<path d="M610.8,124.69999999999999 L624.2,132.5 L624.2,124.69999999999999 L610.8,132.5 Z" fill="#fff" stroke="#222" stroke-width="1.2" stroke-linejoin="miter"/>
<path d="M409,157.2 h5.3 q0.6,0 0.6,0.6 v2.7 h3.1 v6.1 h-3.1 v3.1 q0,0.6 -0.6,0.6 h-5.3 q-0.6,0 -0.6,-0.6 v-3.1 h-2.2 v-6.1 h2.2 v-2.7 q0,-0.6 0.6,-0.6 z" fill="#fff" stroke="#222" stroke-width="1.1" stroke-linejoin="round"/>
<path d="M417,160.3 v6.3 M405.6,158.6 q-1.4,5 0,10" fill="none" stroke="#222" stroke-width="1.1"/>
<text x="395.5" y="154.5" font-size="11.5" text-anchor="start" font-weight="normal" fill="#333333" textLength="13.9" lengthAdjust="spacingAndGlyphs" >H5</text>
<rect x="629.3" y="37.3" width="12.5" height="111.2" rx="6.25" fill="#fff" stroke="#333" stroke-width="1.3"/>
<text x="629.3" y="165.7" font-size="11.5" text-anchor="start" font-weight="normal" fill="#333333" textLength="18.9" lengthAdjust="spacingAndGlyphs" >H10</text>
<path d="M726.05,82.4 L733.3,86.2 L726.05,90.0 Z M740.55,82.4 L733.3,86.2 L740.55,90.0 Z M733.3,86.2 L729.6999999999999,93.0 L736.9,93.0 Z" fill="#fff" stroke="#222" stroke-width="1.2" stroke-linejoin="miter"/>
<path d="M729.3,83.2 L737.3,89.2 M737.3,83.2 L729.3,89.2 M733.3,82.2 L733.3,90.2" stroke="#222" stroke-width="0.8"/>
<circle cx="733.3" cy="79.3" r="4.1" fill="#fff" stroke="#222" stroke-width="1"/>
<text x="726.9" y="71.7" font-size="11.5" text-anchor="start" font-weight="normal" fill="#333333" textLength="14.7" lengthAdjust="spacingAndGlyphs" >H7</text>
<circle cx="750.8" cy="86.2" r="7.6" fill="#fff" stroke="#111" stroke-width="1.2"/>
<path d="M746.62,79.74000000000001 L758.4,86.2 L746.62,92.66 Z" fill="#111"/>
<path d="M761.4,83.0 L774.6,90.4 L774.6,83.0 L761.4,90.4 Z" fill="#fff" stroke="#222" stroke-width="1.2" stroke-linejoin="miter"/>
<line x1="759.2" y1="78.8" x2="770" y2="78.8" stroke="#222" stroke-width="1.2"/><path d="M767.2,76 L777.2,78.8 L767.2,81.6 Z" fill="#111"/>
<path d="M827.3,82.3 L840.7,90.10000000000001 L840.7,82.3 L827.3,90.10000000000001 Z" fill="#fff" stroke="#222" stroke-width="1.2" stroke-linejoin="miter"/>
<path d="M827.3,98.1 L840.7,105.9 L840.7,98.1 L827.3,105.9 Z" fill="#fff" stroke="#222" stroke-width="1.2" stroke-linejoin="miter"/>
<circle cx="712.6" cy="148" r="7.6" fill="#fff" stroke="#111" stroke-width="1.2"/>
<path d="M708.4200000000001,141.54 L720.2,148 L708.4200000000001,154.46 Z" fill="#111"/>
<path d="M725.4,144.60000000000002 L738.6,152.0 L738.6,144.60000000000002 L725.4,152.0 Z" fill="#fff" stroke="#222" stroke-width="1.2" stroke-linejoin="miter"/>
<line x1="722.5" y1="140.3" x2="733" y2="140.3" stroke="#222" stroke-width="1.2"/><path d="M730.5,137.5 L740.5,140.3 L730.5,143.1 Z" fill="#111"/>
<text x="705.2" y="169.8" font-size="11.5" text-anchor="start" font-weight="normal" fill="#333333" textLength="14.2" lengthAdjust="spacingAndGlyphs" >H8</text>
<path d="M782.5999999999999,144.1 L796.0,151.9 L796.0,144.1 L782.5999999999999,151.9 Z" fill="#fff" stroke="#222" stroke-width="1.2" stroke-linejoin="miter"/>
<path d="M782.5999999999999,161.7 L796.0,169.5 L796.0,161.7 L782.5999999999999,169.5 Z" fill="#fff" stroke="#222" stroke-width="1.2" stroke-linejoin="miter"/>
<defs><linearGradient id="loopg" gradientUnits="userSpaceOnUse" x1="857" y1="0" x2="915" y2="0"><stop offset="0" stop-color="#2566b2"/><stop offset="0.5" stop-color="#765592"/><stop offset="1" stop-color="#dc2f5c"/></linearGradient></defs>
<path d="M857.2,107.4 V198.6 A5.7,5.7 0 0 0 868.6,198.6 V125 A5.8,5.8 0 0 1 880.2,125 V198.6 A5.8,5.8 0 0 0 891.8,198.6 V125 A5.7,5.7 0 0 1 903.2,125 V198.6 A5.8,5.8 0 0 0 914.8,198.6 V92.2" fill="none" stroke="url(#loopg)" stroke-width="2.5"/>
<rect x="868.4" y="81.7" width="54.2" height="10.5" fill="#fff" stroke="#ec5c70" stroke-width="1.3"/>
<rect x="849.4" y="96.7" width="54.2" height="10.7" fill="#fff" stroke="#3f86cc" stroke-width="1.3"/>
<text x="857.3" y="61.7" font-size="9.9" text-anchor="start" font-weight="normal" fill="#333333" textLength="63.7" lengthAdjust="spacingAndGlyphs" >OGRZEWANIE</text>
<text x="857.3" y="74.7" font-size="9.9" text-anchor="start" font-weight="normal" fill="#333333" textLength="61.0" lengthAdjust="spacingAndGlyphs" >PODŁOGOWE</text>
<rect x="716.4" y="231.4" width="73.4" height="54.9" rx="1.8" fill="#fff" stroke="#555" stroke-width="1"/>
<line x1="716.9" y1="231.8" x2="789.4" y2="231.8" stroke="#555" stroke-width="1.3"/>
<line x1="717.4" y1="232" x2="717.4" y2="285.5" stroke="#888" stroke-width="1.8"/>
<path d="M726.1999999999999,239.5 V278.4 H722.1999999999999 M734.3,239.5 V278.4 H730.3 M742.4,239.5 V278.4 H738.4 M750.4999999999999,239.5 V278.4 H746.4999999999999 M758.5999999999999,239.5 V278.4 H754.5999999999999 M766.6999999999999,239.5 V278.4 H762.6999999999999 M774.8,239.5 V278.4 H770.8 M782.9,239.5 V278.4 H778.9 " fill="none" stroke="#444" stroke-width="0.9"/>
<rect x="840" y="231.4" width="73.4" height="54.9" rx="1.8" fill="#fff" stroke="#555" stroke-width="1"/>
<line x1="840.5" y1="231.8" x2="913" y2="231.8" stroke="#555" stroke-width="1.3"/>
<line x1="841" y1="232" x2="841" y2="285.5" stroke="#888" stroke-width="1.8"/>
<path d="M849.8,239.5 V278.4 H845.8 M857.9,239.5 V278.4 H853.9 M866.0,239.5 V278.4 H862.0 M874.0999999999999,239.5 V278.4 H870.0999999999999 M882.1999999999999,239.5 V278.4 H878.1999999999999 M890.3,239.5 V278.4 H886.3 M898.4,239.5 V278.4 H894.4 M906.5,239.5 V278.4 H902.5 " fill="none" stroke="#444" stroke-width="0.9"/>
<text x="728.9" y="221.7" font-size="9.7" text-anchor="start" font-weight="normal" fill="#333333" textLength="50.6" lengthAdjust="spacingAndGlyphs" >GRZEJNIKI</text>
<defs><linearGradient id="boilg" x1="0" y1="0" x2="1" y2="0"><stop offset="0" stop-color="#d2d2d4"/><stop offset="0.32" stop-color="#e3e3e5"/><stop offset="0.6" stop-color="#dddddf"/><stop offset="1" stop-color="#c8c8ca"/></linearGradient></defs>
<rect x="564.3" y="238.8" width="100.3" height="172.3" fill="url(#boilg)" stroke="#3a3a3a" stroke-width="1.3"/>
<rect x="592.9" y="360.5" width="46.9" height="23.8" rx="4.5" fill="#fff" stroke="#555" stroke-width="0.9"/>
<text x="586.2" y="296.7" font-size="10" text-anchor="start" font-weight="normal" fill="#333333" textLength="60.9" lengthAdjust="spacingAndGlyphs" >DODATKOWE</text>
<text x="597.0" y="309.8" font-size="10" text-anchor="start" font-weight="normal" fill="#333333" textLength="38.7" lengthAdjust="spacingAndGlyphs" >ŹRÓDŁO</text>
<text x="599.3" y="322.3" font-size="10" text-anchor="start" font-weight="normal" fill="#333333" textLength="34.7" lengthAdjust="spacingAndGlyphs" >CIEPŁA</text>
<path d="M723.0,460.4 L730,464.2 L723.0,468.0 Z M737.0,460.4 L730,464.2 L737.0,468.0 Z M730,464.2 L726.4,471.0 L733.6,471.0 Z" fill="#fff" stroke="#222" stroke-width="1.2" stroke-linejoin="miter"/>
<path d="M726,461.2 L734,467.2 M734,461.2 L726,467.2 M730,460.2 L730,468.2" stroke="#222" stroke-width="0.8"/>
<rect x="727.6" y="454.4" width="5.2" height="6.4" fill="#fff" stroke="#222" stroke-width="1"/>
<text x="722.2" y="449.9" font-size="11.5" text-anchor="start" font-weight="normal" fill="#333333" textLength="14.2" lengthAdjust="spacingAndGlyphs" >H4</text>
<path d="M726,509 L734,509 L726,522 L734,522 Z" fill="#fff" stroke="#222" stroke-width="1.1"/>
<line x1="738.2" y1="512" x2="738.2" y2="524.5" stroke="#111" stroke-width="1.2"/><path d="M735.2,517 L738.2,507.2 L741.2,517 Z" fill="#111"/>
<text x="711.2" y="519.5" font-size="11.5" text-anchor="start" font-weight="normal" fill="#333333" textLength="11.9" lengthAdjust="spacingAndGlyphs" >H1</text>
<path d="M818.1,541.4000000000001 L831.1,549.0 L831.1,541.4000000000001 L818.1,549.0 Z" fill="#fff" stroke="#222" stroke-width="1.2" stroke-linejoin="miter"/>
<path d="M848.6,541.2 L857.5,545.2 L862,543.1 L862,547.3 L857.5,545.2 L848.6,549.2 Z" fill="#fff" stroke="#222" stroke-width="1.1"/>
<path d="M874.5,541.4000000000001 L887.5,549.0 L887.5,541.4000000000001 L874.5,549.0 Z" fill="#fff" stroke="#222" stroke-width="1.2" stroke-linejoin="miter"/>
<text x="846.3" y="564.7" font-size="11.5" text-anchor="start" font-weight="normal" fill="#333333" textLength="14.2" lengthAdjust="spacingAndGlyphs" >H3</text>
<rect x="762.4" y="349.2" width="141.8" height="171.1" fill="none" stroke="#999" stroke-width="0.9" stroke-dasharray="4,3"/>
<text x="774.6" y="374.7" font-size="10" text-anchor="start" font-weight="normal" fill="#333333" textLength="59.8" lengthAdjust="spacingAndGlyphs" >INSTALACJA</text>
<text x="773.9" y="387.7" font-size="10" text-anchor="start" font-weight="normal" fill="#333333" textLength="63.4" lengthAdjust="spacingAndGlyphs" >WEWNĘTRZA</text>
<text x="788.9" y="400.8" font-size="10" text-anchor="start" font-weight="normal" fill="#333333" textLength="31.3" lengthAdjust="spacingAndGlyphs" >C.W.U.</text>
<path d="M782,437.8 H832.5 Q834.5,437.8 833.9,441 Q831,452 818,452.8 L782,455.3 Z" fill="#fff" stroke="#444" stroke-width="1"/>
<path d="M782,455.5 V507.4 H806.4 L799.7,455.5" fill="none" stroke="#444" stroke-width="1"/>
<path d="M783,437.8 L786.4,415.4 H795.6 L794.4,417 H790.5 V420.3 H803 Q805,420.5 805,422.3 Q805,424.2 803,424.2 H790.5 V437.8" fill="#fff" stroke="#333" stroke-width="0.9"/>
<path d="M801.5,426.5 L798.5,436 M802.7,426.5 L801.8,436 M804,426.5 L805,435.5 M805.2,426 L809.5,434.5" stroke="#444" stroke-width="0.6" stroke-dasharray="1.6,1"/>
<path d="M885.2,507 V384.5 A10.85,10.85 0 0 0 863.5,384.5 V386.5" fill="none" stroke="#444" stroke-width="1"/>
<path d="M855.2,392 Q855.2,385.8 863.5,385.8 Q871.8,385.8 871.8,392 Q871.8,394.2 869.6,394.2 H857.4 Q855.2,394.2 855.2,392 Z" fill="#fff" stroke="#333" stroke-width="1"/>
<path d="M859,396 L849.2,419 M860.8,396 L855,420 M862.5,396 L860.3,421 M864.5,396 L866,421 M866.5,396 L871.5,419.5 M868.3,396 L877.5,418.5" stroke="#444" stroke-width="0.7" stroke-dasharray="2,1.2"/>
<line x1="0" y1="594.5" x2="934.8" y2="594.5" stroke="#555" stroke-width="1.6"/>
</svg>
</body></html>
